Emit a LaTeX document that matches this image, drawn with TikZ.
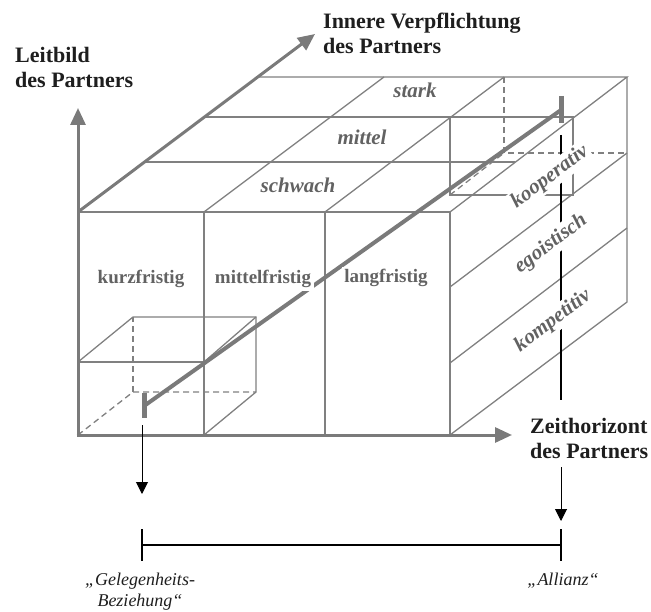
\documentclass[tikz,border=0pt]{standalone}
\usepackage{fontspec}
\setmainfont{Liberation Serif}
\usetikzlibrary{arrows.meta}

\definecolor{linegray}{HTML}{808080}
\definecolor{axisgray}{HTML}{7A7A7A}
\definecolor{textgray}{HTML}{626262}
\definecolor{inkdark}{HTML}{1E1E1E}

\begin{document}
\begin{tikzpicture}[x=1pt,y=-1pt,
  gridline/.style={draw=linegray,line width=1.3pt},
  hiddenline/.style={gridline,dash pattern=on 6pt off 4pt},
  axisline/.style={draw=axisgray,line width=3pt,-{Triangle[length=17pt,width=15pt]}},
  pathline/.style={draw=axisgray,line width=4pt},
  pathbar/.style={draw=axisgray,line width=5pt},
  pointer/.style={draw=black,line width=1pt,-{Triangle[length=12pt,width=12pt]}},
  scaleline/.style={draw=black,line width=1.1pt},
  axislabel/.style={font=\fontsize{22}{25}\selectfont\bfseries,text=inkdark,align=left,inner sep=0pt,anchor=north west},
  celllabel/.style={font=\fontsize{19}{22}\selectfont\bfseries,text=textgray,fill=white,inner sep=2.5pt,anchor=base},
  levellabel/.style={font=\fontsize{21}{24}\selectfont\bfseries\itshape,text=textgray,inner sep=2pt,anchor=base},
  typelabel/.style={font=\fontsize{21}{24}\selectfont\bfseries\itshape,text=textgray,fill=white,inner sep=2pt,rotate=37},
  endlabel/.style={font=\fontsize{18}{21}\selectfont\itshape,text=inkdark,align=center,inner sep=0pt}
]
\useasboundingbox (0,0) rectangle (651,612);

% ---------- cube corners ----------
\coordinate (O)   at (78,435);
\coordinate (FTL) at (78,212);
\coordinate (FTR) at (450,212);
\coordinate (FBR) at (450,435);
\coordinate (BTL) at (258,77);
\coordinate (BTR) at (627,77);
\coordinate (BBR) at (627,302);

% front face: columns kurz / mittel / lang
\draw[gridline] (FTL) -- (FTR) -- (FBR);
\draw[gridline] (204,212) -- (204,435);
\draw[gridline] (325,212) -- (325,435);

% top face
\draw[gridline] (BTL) -- (BTR) -- (FTR);
\draw[gridline] (145,162) -- (515,162);
\draw[gridline] (205,117) -- (573,117);
\draw[gridline] (204,212) -- (384,77);
\draw[gridline] (325,212) -- (504,77);

% right face: rows kompetitiv / egoistisch / kooperativ
\draw[gridline] (BTR) -- (BBR) -- (FBR);
\draw[gridline] (450,287) -- (627,153);
\draw[gridline] (450,363) -- (627,228);

% small cube: kurzfristig / kompetitiv / schwach
\draw[gridline] (78,362) -- (204,362);
\draw[gridline] (78,362) -- (133,317) -- (256,317) -- (256,392) -- (204,435);
\draw[gridline] (204,362) -- (256,317);
\draw[hiddenline] (O) -- (133,392) -- (256,392);
\draw[hiddenline] (133,392) -- (133,317);

% small cube: langfristig / kooperativ / stark
\draw[gridline] (450,117) rectangle (573,195);
\draw[hiddenline] (504,77) -- (504,153) -- (627,153);
\draw[hiddenline] (450,195) -- (504,153);

% ---------- axes ----------
\draw[axisline] (78,436.5) -- (78,108);
\draw[axisline] (76.5,435) -- (512,435);
\draw[axisline] (FTL) -- (315,34);

% ---------- development path ----------
\coordinate (pathStart) at (144,406);
\coordinate (pathEnd)   at (561,110);
\draw[pathbar] (144,393) -- (144,418);
\draw[pathbar] (561,96) -- (561,123);
\draw[pathline] (pathStart) -- (pathEnd);

% ---------- projection lines onto the scale ----------
\coordinate (dropL)   at (142,425);
\coordinate (tipL)    at (142,494);
\coordinate (dropR)   at (561,135);
\coordinate (gapTop)  at (561,400);
\coordinate (gapBot)  at (561,467);
\coordinate (tipR)    at (561,521);
\draw[scaleline] (dropR) -- (gapTop);
\draw[pointer] (dropL) -- (tipL);
\draw[pointer] (gapBot) -- (tipR);

% scale between the two relationship types
\coordinate (scaleL) at (142,545);
\coordinate (scaleR) at (561,545);
\draw[scaleline] (scaleL) -- (scaleR);
\draw[scaleline] (142,529) -- (142,561);
\draw[scaleline] (561,529) -- (561,561);

% ---------- cell labels ----------
\node[celllabel] (kurz)   at (141,284) {kurzfristig};
\node[celllabel] (mittelf) at (263,284) {mittelfristig};
\node[celllabel] (lang)   at (386,283) {langfristig};

\node[levellabel] (schwach) at (298,193) {schwach};
\node[levellabel] (mittel)  at (362,145) {mittel};
\node[levellabel] (stark)   at (415,98)  {stark};

\node[typelabel] (koop)  at (550,177) {kooperativ};
\node[typelabel] (ego)   at (551,244) {egoistisch};
\node[typelabel] (komp)  at (553,321) {kompetitiv};

% ---------- axis labels ----------
\node[axislabel] (leitbild) at (15,47)  {Leitbild\\des Partners};
\node[axislabel] (innere)   at (323,13) {Innere Verpflichtung\\des Partners};
\node[axislabel] (zeit)     at (530,418) {Zeithorizont\\des Partners};

% ---------- end points of the scale ----------
\node[endlabel,anchor=north] (gelegen) at (140,573) {„Gelegenheits-\\Beziehung“};
\node[endlabel,anchor=base] (allianz) at (563,585) {„Allianz“};

\end{tikzpicture}
\end{document}
